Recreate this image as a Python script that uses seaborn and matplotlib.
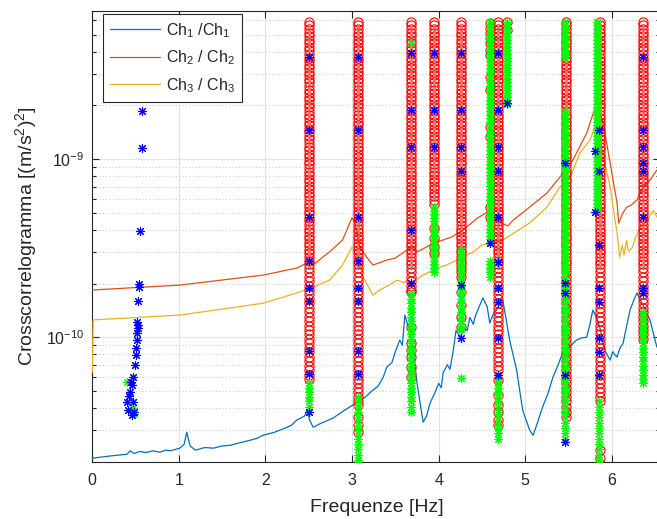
import numpy as np
import matplotlib
matplotlib.use("Agg")
import matplotlib.pyplot as plt
import seaborn as sns
from matplotlib.ticker import LogLocator, FixedLocator, NullFormatter, NullLocator

# --- spettri (auto-correlazione) ---
CH1_FREQ = [0.0, 0.2, 0.40, 0.44, 0.48, 0.55, 0.62, 0.7, 0.78, 0.85, 0.9, 1.01, 1.06, 1.09, 1.13,
            1.19, 1.3, 1.4, 1.5, 1.59, 1.7, 1.8, 1.9, 1.97, 2.1, 2.2, 2.3, 2.36, 2.45, 2.48, 2.51,
            2.55, 2.65, 2.78, 2.9, 3.06, 3.15, 3.24, 3.30, 3.36, 3.40, 3.46, 3.50, 3.55, 3.58,
            3.61, 3.64, 3.67, 3.72, 3.75, 3.82, 3.86, 3.90, 3.95, 4.0, 4.03, 4.05, 4.10, 4.13,
            4.17, 4.20, 4.25, 4.29, 4.33, 4.36, 4.40, 4.42, 4.46, 4.51, 4.54, 4.56, 4.59, 4.63,
            4.67, 4.70, 4.74, 4.78, 4.82, 4.90, 4.97, 5.05, 5.09, 5.14, 5.20, 5.26, 5.32, 5.38,
            5.43, 5.47, 5.50, 5.55, 5.59, 5.65, 5.71, 5.75, 5.78, 5.82, 5.86, 5.92, 5.98, 6.01,
            6.03, 6.06, 6.09, 6.13, 6.17, 6.21, 6.25, 6.29, 6.33, 6.38, 6.44, 6.52]
CH1_VAL = [2.09e-11, 2.15e-11, 2.20e-11, 2.30e-11, 2.22e-11, 2.28e-11, 2.25e-11, 2.30e-11, 2.26e-11,
           2.32e-11, 2.30e-11, 2.38e-11, 2.50e-11, 2.92e-11, 2.45e-11,
           2.32e-11, 2.40e-11, 2.38e-11, 2.45e-11, 2.47e-11, 2.55e-11, 2.62e-11, 2.70e-11,
           2.81e-11, 2.92e-11, 3.05e-11, 3.20e-11, 3.42e-11, 3.60e-11, 3.89e-11, 3.42e-11,
           3.12e-11, 3.30e-11, 3.51e-11, 3.85e-11, 4.32e-11, 4.60e-11, 5.04e-11, 5.30e-11,
           5.96e-11, 6.78e-11, 7.2e-11, 8.3e-11, 9.62e-11, 9.0e-11,
           1.33e-10, 1.18e-10, 1.09e-10, 7.5e-11, 5.52e-11, 3.33e-11, 3.6e-11, 4.26e-11,
           4.8e-11, 5.5e-11, 5.2e-11, 6.28e-11, 7.0e-11, 6.6e-11,
           8.5e-11, 1.09e-10, 1.0e-10, 1.12e-10, 1.09e-10, 1.29e-10, 1.18e-10, 1.30e-10,
           1.45e-10, 1.66e-10, 1.55e-10, 1.48e-10, 1.20e-10, 1.35e-10,
           1.42e-10, 1.52e-10, 1.61e-10, 1.25e-10, 9.62e-11, 6.53e-11, 3.89e-11, 3.01e-11,
           2.81e-11, 3.30e-11, 4.05e-11, 4.80e-11, 5.96e-11, 7.0e-11,
           8.13e-11, 7.8e-11, 8.6e-11, 9.2e-11, 9.62e-11, 9.9e-11, 1.00e-10, 1.20e-10,
           1.42e-10, 1.30e-10, 1.14e-10, 8.4e-11, 7.43e-11, 8.3e-11,
           8.0e-11, 7.73e-11, 8.6e-11, 9.25e-11, 1.15e-10, 1.42e-10, 1.60e-10, 1.77e-10,
           1.61e-10, 1.45e-10, 1.25e-10, 8.79e-11]

CH2_FREQ = [0.0, 1.01, 1.97, 2.36, 2.48, 2.52, 2.56, 2.74, 2.89, 2.998, 3.03, 3.09, 3.17, 3.24,
            3.32, 3.40, 3.50, 3.63, 3.70, 3.75, 3.83, 3.90, 4.05, 4.15, 4.28, 4.45, 4.56, 4.70,
            4.80, 4.86, 5.05, 5.25, 5.40, 5.55, 5.71, 5.82, 5.90, 5.98, 6.06, 6.08, 6.12, 6.17,
            6.22, 6.29, 6.36, 6.44, 6.52]
CH2_VAL = [1.84e-10, 1.96e-10, 2.23e-10, 2.44e-10, 2.61e-10, 2.66e-10, 2.57e-10, 3.01e-10,
           3.51e-10, 4.67e-10, 4.43e-10, 3.21e-10, 2.81e-10, 2.54e-10,
           2.62e-10, 2.71e-10, 2.78e-10, 3.08e-10, 3.25e-10, 3.01e-10, 3.15e-10, 3.29e-10,
           3.51e-10, 3.65e-10, 3.99e-10, 4.67e-10, 5.03e-10, 4.42e-10,
           4.21e-10, 4.54e-10, 5.37e-10, 6.44e-10, 7.92e-10, 9.87e-10, 1.40e-9, 2.04e-9,
           1.59e-9, 9.50e-10, 5.66e-10, 4.37e-10, 4.90e-10, 5.37e-10,
           5.50e-10, 5.89e-10, 6.97e-10, 7.62e-10, 8.67e-10]

CH3_FREQ = [0.0, 0.01, 1.01, 1.97, 2.36, 2.55, 2.74, 2.89, 3.00, 3.06, 3.13, 3.24, 3.32, 3.42,
            3.52, 3.60, 3.67, 3.75, 3.82, 3.98, 4.10, 4.21, 4.40, 4.50, 4.74, 5.05, 5.25, 5.40,
            5.52, 5.63, 5.75, 5.80, 5.86, 5.98, 6.06, 6.09, 6.12, 6.14, 6.17, 6.19, 6.21, 6.24,
            6.27, 6.33, 6.41, 6.48, 6.52]
CH3_VAL = [6.35e-11, 1.25e-10, 1.33e-10, 1.55e-10, 1.77e-10, 1.91e-10, 2.09e-10, 2.54e-10,
           3.21e-10, 2.81e-10, 2.17e-10, 1.72e-10, 1.84e-10, 1.95e-10,
           2.09e-10, 2.02e-10, 2.17e-10, 2.12e-10, 2.23e-10, 2.44e-10, 2.55e-10, 2.71e-10,
           3.01e-10, 3.29e-10, 3.51e-10, 4.37e-10, 5.37e-10, 6.97e-10,
           7.92e-10, 1.08e-9, 1.28e-9, 1.51e-9, 1.28e-9, 6.97e-10, 3.84e-10, 2.81e-10,
           3.29e-10, 2.89e-10, 3.51e-10, 3.05e-10, 3.08e-10, 3.21e-10,
           3.60e-10, 4.15e-10, 4.54e-10, 5.16e-10, 4.72e-10]

# --- diagramma di stabilizzazione ---
# livelli (esponente log10) su cui sono disegnati i poli
LEVEL_EXP = [
    -8.23, -8.25, -8.27, -8.29, -8.31, -8.33, -8.35, -8.37, -8.39, -8.41,
    -8.43, -8.45, -8.47, -8.49, -8.51, -8.53, -8.55, -8.57, -8.59, -8.61,
    -8.63, -8.65, -8.67, -8.69, -8.71, -8.73, -8.75, -8.77, -8.79, -8.81,
    -8.83, -8.85, -8.87, -8.89, -8.91, -8.93, -8.95, -8.97, -8.99, -9.01,
    -9.03, -9.05, -9.07, -9.09, -9.11, -9.13, -9.15, -9.17, -9.19, -9.21,
    -9.23, -9.25, -9.27, -9.29, -9.31, -9.33, -9.35, -9.37, -9.39, -9.41,
    -9.43, -9.45, -9.47, -9.49, -9.51, -9.53, -9.55, -9.57, -9.59, -9.61,
    -9.635, -9.66, -9.685, -9.71, -9.735, -9.76, -9.785, -9.81, -9.835, -9.86,
    -9.885, -9.91, -9.935, -9.96, -9.985, -10.01, -10.035, -10.06, -10.085, -10.11,
    -10.135, -10.16, -10.185, -10.21, -10.235, -10.26, -10.285, -10.31, -10.335, -10.36,
    -10.39, -10.42, -10.45, -10.48, -10.51, -10.54, -10.57, -10.60, -10.63, -10.66, -10.69,
]

# (frequenza, esponente alto, esponente basso)
RED_SEGMENTS = [
    (2.50, -8.23, -10.25), (3.07, -8.23, -10.36), (3.68, -8.23, -9.74),
    (3.95, -8.23, -9.26), (4.26, -8.23, -9.67), (4.68, -8.23, -10.19),
    (5.47, -8.23, -10.45), (5.86, -8.23, -10.36), (6.36, -8.23, -10.01),
]
RED_SINGLE_FREQ = [3.07, 3.07, 3.07, 3.07,
                   3.68, 3.68, 3.68, 3.68, 3.68, 3.68, 3.68,
                   3.95, 3.95, 3.95, 3.95,
                   4.26, 4.26, 4.26, 4.26,
                   4.68, 4.68, 4.68, 4.68, 4.68, 4.68,
                   4.79, 4.79, 5.86, 5.86,
                   4.59, 4.59, 4.59, 4.59, 4.59, 4.59, 4.59, 4.59, 4.59, 4.59, 4.59, 4.59, 4.59]
RED_SINGLE_EXP = [-10.382, -10.449, -10.494, -10.534,
                  -9.747, -9.944, -10.034, -10.073, -10.112, -10.169, -10.225,
                  -9.388, -9.444, -9.494, -9.528,
                  -9.747, -9.820, -9.888, -9.944,
                  -10.242, -10.326, -10.382, -10.421, -10.466, -10.494,
                  -8.230, -8.275, -10.635, -10.680,
                  -8.236, -8.264, -8.292, -8.320, -8.348, -8.388, -8.416, -8.539, -8.612,
                  -8.820, -8.876, -9.270, -9.326]

GREEN_SEGMENTS = [
    (2.50, -10.25, -10.42), (3.07, -10.33, -10.70), (3.68, -9.74, -10.44),
    (3.95, -9.26, -9.65), (4.26, -9.51, -9.96), (4.59, -8.23, -9.47),
    (4.59, -9.57, -9.68), (4.68, -10.19, -10.58), (4.79, -8.23, -8.69),
    (5.46, -8.23, -8.44), (5.46, -8.73, -10.58), (5.83, -8.23, -9.30),
    (5.85, -10.35, -10.70), (6.36, -9.85, -10.26),
]
GREEN_SINGLE_FREQ = [3.68, 4.26, 0.40, 0.47, 0.48]
GREEN_SINGLE_EXP = [-8.348, -10.230, -10.253, -10.40, -10.43]

BLUE_FREQ = [2.50] * 9 + [3.07] * 8 + [3.68] * 5 + [3.95] * 3 + [4.26] * 6 + [4.59] + \
            [4.68] * 10 + [4.79] + [5.46] * 5 + [5.85, 5.80, 5.85, 5.80, 5.85, 5.85, 5.85, 5.85, 5.85, 5.85] + \
            [6.36] * 8 + \
            [0.575, 0.575, 0.55, 0.54, 0.528, 0.516, 0.528, 0.52, 0.516, 0.50, 0.493, 0.47, 0.458,
             0.435, 0.40, 0.412, 0.458, 0.47, 0.481, 0.54, 0.53, 0.51, 0.445, 0.42]
BLUE_EXP = [-8.427, -8.837, -9.326, -9.573, -9.725, -9.798, -10.079, -10.208, -10.421,
            -8.427, -8.837, -9.326, -9.573, -9.725, -9.798, -10.079, -10.208,
            -8.404, -8.725, -8.933, -9.399, -9.697,
            -8.404, -8.725, -8.933,
            -8.404, -8.725, -8.933, -9.067, -9.708, -10.006,
            -9.472,
            -8.404, -8.725, -8.933, -9.067, -9.326, -9.579, -9.725, -9.803, -10.006, -10.213,
            -8.685,
            -9.022, -9.697, -9.753, -10.213, -10.590,
            -8.837, -8.955, -9.067, -9.298, -9.483, -9.725, -9.803, -10.006, -10.084, -10.213,
            -8.427, -8.837, -8.933, -9.022, -9.067, -9.326, -9.725, -9.753,
            -8.730, -8.938, -9.404, -9.702, -9.798, -9.916, -9.949, -9.978, -10.017, -10.101,
            -10.157, -10.225, -10.270, -10.309, -10.365, -10.410, -10.438, -10.365, -10.420,
            -9.72, -9.93, -10.06, -10.25, -10.33]

LEGEND_LABELS = ['Ch$_1$ /Ch$_1$', 'Ch$_2$ / Ch$_2$', 'Ch$_3$ / Ch$_3$']
LINE_COLORS = ['#0072BD', '#D95319', '#EDB120']
Y_TICKS = [1e-10, 1e-9]
X_TICKS = [0, 1, 2, 3, 4, 5, 6]

sns.set_theme(style="ticks")
plt.rcParams['font.family'] = ['Liberation Sans', 'DejaVu Sans']
plt.rcParams['mathtext.fontset'] = 'custom'
plt.rcParams['mathtext.rm'] = 'Liberation Sans'
plt.rcParams['mathtext.it'] = 'Liberation Sans:italic'
plt.rcParams['mathtext.bf'] = 'Liberation Sans:bold'

levels = np.array(LEVEL_EXP)


def segment_points(segments):
    xs, ys = [], []
    for f, top, bottom in segments:
        sel = levels[(levels <= top + 1e-6) & (levels >= bottom - 1e-6)]
        xs.extend([f] * len(sel))
        ys.extend(10.0 ** sel)
    return xs, ys


fig = plt.figure(figsize=(6.57, 5.19), dpi=100)
ax = fig.add_axes([0.1405, 0.1098, 0.8646, 0.8696])

curves = [(CH1_FREQ, CH1_VAL), (CH2_FREQ, CH2_VAL), (CH3_FREQ, CH3_VAL)]
for (fx, fy), lab, col in zip(curves, LEGEND_LABELS, LINE_COLORS):
    sns.lineplot(x=fx, y=fy, ax=ax, color=col, lw=0.9, label=lab,
                 estimator=None, sort=False, zorder=3)

star = (8, 2, 0)
rx, ry = segment_points(RED_SEGMENTS)
rx += RED_SINGLE_FREQ
ry += list(10.0 ** np.array(RED_SINGLE_EXP))
ax.plot(rx, ry, 'o', ls='none', mfc='none', mec='#ff0000', ms=6.6, mew=0.8, zorder=4)

gx, gy = segment_points(GREEN_SEGMENTS)
gx += GREEN_SINGLE_FREQ
gy += list(10.0 ** np.array(GREEN_SINGLE_EXP))
ax.plot(gx, gy, marker=star, ls='none', color='#00ff00', ms=6.0, mew=0.8, zorder=5)

ax.plot(BLUE_FREQ, 10.0 ** np.array(BLUE_EXP), marker=star, ls='none',
        color='#0000ff', ms=6.5, mew=0.8, zorder=6)

ax.set_yscale('log')
ax.set_xlim(0, 6.56)
ax.set_ylim(1.99e-11, 6.81e-9)

ax.xaxis.set_major_locator(FixedLocator(X_TICKS))
ax.xaxis.set_minor_locator(NullLocator())
ax.yaxis.set_major_locator(FixedLocator(Y_TICKS))
ax.yaxis.set_minor_locator(LogLocator(base=10, subs=np.arange(2, 10)))
ax.yaxis.set_minor_formatter(NullFormatter())

edge = '#262626'
ax.grid(True, which='major', color='#e3e3e3', lw=0.8, ls='-', zorder=0)
ax.grid(True, which='minor', axis='y', color='#cfcfcf', lw=0.8, ls=(0, (1, 2)), zorder=0)
ax.set_axisbelow(True)
for s in ax.spines.values():
    s.set_color(edge)
    s.set_linewidth(0.8)
ax.tick_params(which='both', direction='in', top=True, right=True, colors=edge,
               labelsize=11.5, width=0.8)
ax.tick_params(which='major', length=5)
ax.tick_params(which='minor', length=3)
ax.tick_params(axis='x', pad=8)
ax.tick_params(axis='y', pad=6)

ax.set_xlabel('Frequenze [Hz]', fontsize=14, color=edge, labelpad=8)
ax.set_ylabel('Crosscorrelogramma [(m/s$^2$)$^2$]', fontsize=14, color=edge)
ax.yaxis.set_label_coords(-0.094, 0.5)

handles, labels = ax.get_legend_handles_labels()
leg = ax.legend(handles[:3], labels[:3], loc='upper left', bbox_to_anchor=(0.019, 0.993),
                borderaxespad=0, fontsize=11.5, handlelength=3.1, labelspacing=0.55,
                fancybox=False, framealpha=1, edgecolor=edge, borderpad=0.45, handletextpad=0.4)
leg.get_frame().set_linewidth(0.8)

fig.savefig('out.png', dpi=100)
